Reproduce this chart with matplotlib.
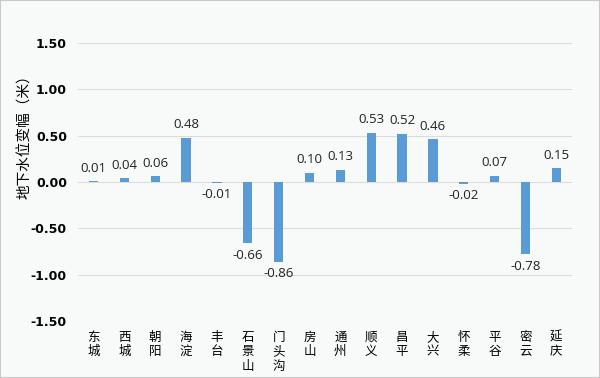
import numpy as np
import matplotlib.pyplot as plt

plt.rcParams['font.family'] = ['Noto Sans CJK SC', 'DejaVu Sans']

districts = ['东城', '西城', '朝阳', '海淀', '丰台', '石景山', '门头沟', '房山',
             '通州', '顺义', '昌平', '大兴', '怀柔', '平谷', '密云', '延庆']
change = [0.01, 0.04, 0.06, 0.48, -0.01, -0.66, -0.86, 0.10,
          0.13, 0.53, 0.52, 0.46, -0.02, 0.07, -0.78, 0.15]
yticks = [-1.5, -1.0, -0.5, 0.0, 0.5, 1.0, 1.5]

bg = '#f8f9f9'
fig = plt.figure(figsize=(6, 3.78), dpi=100, facecolor=bg)
ax = fig.add_axes([0.13, 0.151, 0.823, 0.735], facecolor=bg)

x = np.arange(len(districts))
ax.bar(x, change, width=0.3, color='#5b9bd5', zorder=3)

for xi, v in zip(x, change):
    if v >= 0:
        ax.text(xi, v + 0.07, '%.2f' % v, ha='center', va='bottom', fontsize=9.5,
                family='Open Sans', color='#222222')
    else:
        ax.text(xi, v - 0.06, '%.2f' % v, ha='center', va='top', fontsize=9.5,
                family='Open Sans', color='#222222')

ax.set_xlim(-0.5, len(districts) - 0.5)
ax.set_ylim(-1.5, 1.5)
ax.set_yticks(yticks)
ax.set_yticklabels(['%.2f' % t for t in yticks], fontsize=9, fontweight='bold',
                   family='DejaVu Sans')
ax.yaxis.grid(True, color='#dcdcdc', linewidth=0.8, zorder=0)
ax.tick_params(axis='both', length=0)
ax.tick_params(axis='y', pad=8)

ax.set_xticks(x)
ax.set_xticklabels(['\n'.join(d) for d in districts], fontsize=9,
                   linespacing=1.15, va='top')
ax.tick_params(axis='x', pad=7)

for s in ax.spines.values():
    s.set_visible(False)

ax.set_ylabel('地下水位变幅（米）', fontsize=10.5)
ax.yaxis.set_label_coords(-0.092, 0.676)

fig.patches.append(plt.Rectangle((0, 0), 1, 1, transform=fig.transFigure,
                                 fill=False, edgecolor='#c8c8c8', linewidth=1.5))

fig.savefig('out.png', dpi=100, facecolor=bg)
